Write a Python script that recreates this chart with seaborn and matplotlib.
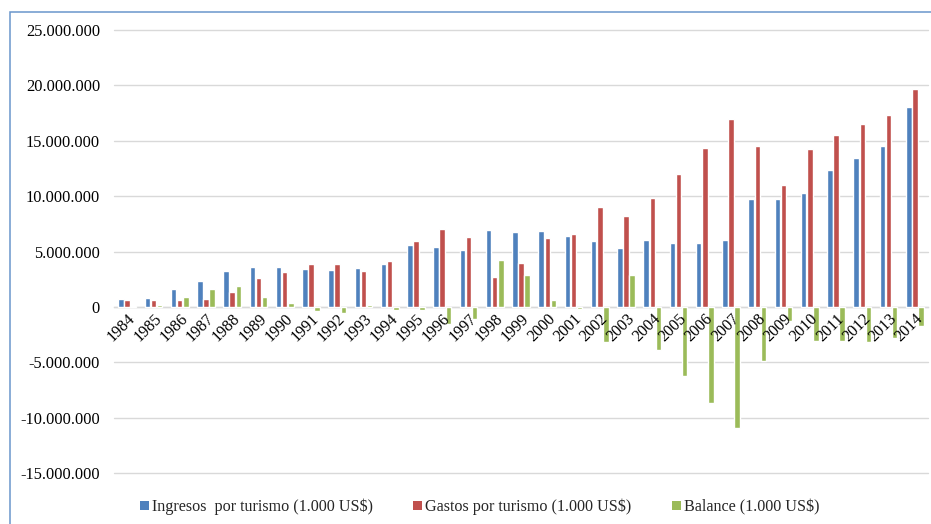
import matplotlib
matplotlib.use("Agg")
import matplotlib.pyplot as plt
from matplotlib.patches import Patch, Rectangle
from matplotlib.ticker import FuncFormatter, MultipleLocator
import pandas as pd
import seaborn as sns

# Turismo: ingresos, gastos y balance anual (miles de US$)
years = ["1984", "1985", "1986", "1987", "1988", "1989", "1990", "1991",
         "1992", "1993", "1994", "1995", "1996", "1997", "1998", "1999",
         "2000", "2001", "2002", "2003", "2004", "2005", "2006", "2007",
         "2008", "2009", "2010", "2011", "2012", "2013", "2014"]

ingresos = [690000, 780000, 1570000, 2320000, 3280000, 3580000, 3580000,
            3460000, 3310000, 3490000, 3830000, 5630000, 5450000, 5120000,
            6900000, 6800000, 6840000, 6420000, 5930000, 5330000, 6050000,
            5810000, 5750000, 6080000, 9700000, 9760000, 10300000, 12370000,
            13410000, 14490000, 18020000]

gastos = [600000, 630000, 630000, 690000, 1360000, 2590000, 3190000,
          3830000, 3830000, 3280000, 4130000, 5930000, 6990000, 6300000,
          2680000, 4000000, 6200000, 6570000, 9000000, 8230000, 9850000,
          12000000, 14310000, 16920000, 14520000, 11020000, 14250000,
          15510000, 16500000, 17310000, 19700000]

balance = [120000, 150000, 930000, 1600000, 1930000, 930000, 390000,
           -360000, -510000, 210000, -270000, -300000, -1540000, -1110000,
           4250000, 2860000, 630000, -150000, -3150000, 2900000, -3870000,
           -6280000, -8640000, -10930000, -4930000, -1290000, -3100000,
           -3100000, -3150000, -2800000, -1720000]

series_names = ["Ingresos  por turismo (1.000 US$)",
                "Gastos por turismo (1.000 US$)",
                "Balance (1.000 US$)"]
colors = ["#4F81BD", "#C0504D", "#9BBB59"]

df = pd.concat([
    pd.DataFrame({"year": years, "value": vals, "serie": name})
    for name, vals in zip(series_names, [ingresos, gastos, balance])
], ignore_index=True)

sns.set_theme(style="white")
plt.rcParams["font.family"] = ["Liberation Serif", "DejaVu Serif"]

W, H = 931, 524
fig = plt.figure(figsize=(W / 100, H / 100), dpi=100)
fig.patch.set_facecolor("white")

left, right, top, bottom = 114, 928, 30, 473
ax = fig.add_axes([left / W, 1 - bottom / H, (right - left) / W, (bottom - top) / H])

sns.barplot(data=df, x="year", y="value", hue="serie", order=years,
            hue_order=series_names, palette=colors, width=0.7, gap=0.1,
            saturation=1, ax=ax, legend=False)

ax.set_ylim(-15_000_000, 25_000_000)
ax.set_xlim(-0.5, len(years) - 0.5)
ax.yaxis.set_major_locator(MultipleLocator(5_000_000))
ax.yaxis.set_major_formatter(
    FuncFormatter(lambda v, _: f"{int(round(v)):,}".replace(",", ".")))

# horizontal gridlines behind the bars, year labels on top of them
ax.grid(axis="y", color="#D9D9D9", linewidth=1.0)
ax.grid(axis="x", visible=False)
for gl in ax.get_ygridlines():
    gl.set_clip_on(False)
ax.yaxis.set_zorder(0.5)
ax.xaxis.set_zorder(3)

for side in ["left", "right", "top"]:
    ax.spines[side].set_visible(False)
ax.spines["bottom"].set_position(("data", 0))
ax.spines["bottom"].set_color("#D9D9D9")
ax.spines["bottom"].set_linewidth(1.0)
ax.spines["bottom"].set_zorder(0.6)

ax.set_xlabel("")
ax.set_ylabel("")
ax.tick_params(axis="y", length=0, pad=10, labelsize=11.8, labelcolor="black")
ax.tick_params(axis="x", length=0, pad=3, labelsize=11.6, labelcolor="black")
for lab in ax.get_xticklabels():
    lab.set_rotation(45)
    lab.set_rotation_mode("anchor")
    lab.set_ha("right")
    lab.set_va("top")

handles = [Patch(facecolor=c, edgecolor="none") for c in colors]
fig.legend(handles, series_names, loc="center left",
           bbox_to_anchor=(140 / W, 1 - 507 / H), ncol=3, frameon=False,
           fontsize=11.6, handlelength=0.55, handleheight=0.55,
           handletextpad=0.2, columnspacing=2.5, borderpad=0,
           borderaxespad=0)

# chart frame
fig.patches.append(Rectangle((10 / W, -0.1), 1.2, 1.1 - 12 / H,
                             transform=fig.transFigure, fill=False,
                             edgecolor="#6A96CC", linewidth=1.1))

fig.savefig("out.png", dpi=100)
